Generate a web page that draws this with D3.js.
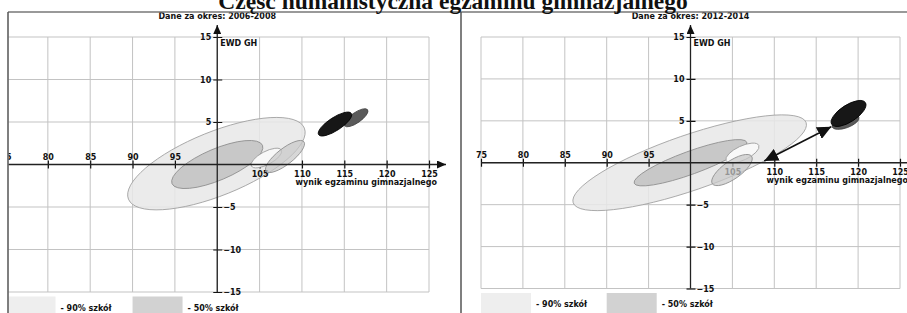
<!DOCTYPE html>
<html>
<head>
<meta charset="utf-8">
<script src="https://cdn.jsdelivr.net/npm/d3@7"></script>
<style>
    body { margin: 0; background: #fff; }
    svg text { font-family: "DejaVu Sans", sans-serif; font-weight: bold; font-size: 8px; fill: #111; }
    svg text.main-title { font-family: "Liberation Serif", serif; font-size: 23.5px; }
</style>
</head>
<body>
<div id="chart"></div>
<script>
// ---- data ----
const chartTitle = "Część humanistyczna egzaminu gimnazjalnego";
const periods = ["Dane za okres: 2006-2008", "Dane za okres: 2012-2014"];
const xTicks = [75, 80, 85, 90, 95, 100, 105, 110, 115, 120, 125];
const yTicks = [-15, -10, -5, 0, 5, 10, 15];
const xAxisTitle = "wynik egzaminu gimnazjalnego";
const yAxisTitle = "EWD GH";
const legendLabels = ["- 90% szkół", "- 50% szkół"];

// ellipses: kind, centre (wynik, EWD), half axes in data units, tilt in degrees
const ellipses2006 = [
    {kind: "p90", cx: 99.9, cy: 0.1, rx: 11.2, ry: 3.75, angle: 22},
    {kind: "p50", cx: 100.0, cy: 0.0, rx: 5.8, ry: 1.85, angle: 23},
    {kind: "white", cx: 105.8, cy: 0.76, rx: 2.0, ry: 0.77, angle: 28},
    {kind: "school", cx: 108.0, cy: 0.94, rx: 2.83, ry: 0.94, angle: 38},
    {kind: "grey", cx: 116.4, cy: 5.5, rx: 1.65, ry: 0.6, angle: 35},
    {kind: "black", cx: 113.9, cy: 4.76, rx: 2.3, ry: 0.77, angle: 33}
];
const ellipses2012 = [
    {kind: "p90", cx: 99.9, cy: 0.0, rx: 14.7, ry: 3.3, angle: 19},
    {kind: "p50", cx: 100.0, cy: 0.0, rx: 7.15, ry: 1.37, angle: 20},
    {kind: "white", cx: 106.2, cy: 1.16, rx: 2.15, ry: 0.84, angle: 25},
    {kind: "school", cx: 104.95, cy: -0.87, rx: 2.86, ry: 1.07, angle: 35},
    {kind: "grey", cx: 118.5, cy: 4.86, rx: 1.7, ry: 0.7, angle: 20},
    {kind: "black", cx: 118.86, cy: 5.88, rx: 2.39, ry: 1.01, angle: 33}
];
const arrow2012 = [[108.8, 0.2], [116.8, 4.3]];

const ellipseStyle = {
    p90:    {fill: "#e8e8e8", stroke: "#a0a0a0", op: 0.85, under: true},
    p50:    {fill: "#c2c2c2", stroke: "#8e8e8e", op: 0.85, under: true},
    white:  {fill: "#f8f8f8", stroke: "#9c9c9c", op: 1},
    school: {fill: "#c8c8c8", stroke: "#8c8c8c", op: 0.72},
    grey:   {fill: "#5a5a5a", stroke: "#444", op: 1},
    black:  {fill: "#171717", stroke: "#000", op: 1}
};

const W = 907, H = 313;

const svg = d3.select("#chart").append("svg")
    .attr("width", W)
    .attr("height", H);

// markers for arrows (axes and the change arrow)
const defs = svg.append("defs");
defs.append("marker")
    .attr("id", "axisHead")
    .attr("markerUnits", "userSpaceOnUse")
    .attr("markerWidth", 10).attr("markerHeight", 8)
    .attr("refX", 9).attr("refY", 4)
    .attr("orient", "auto")
    .append("path").attr("d", "M0,0 L9,4 L0,8 Z").attr("fill", "#111");
defs.append("marker")
    .attr("id", "bigHead")
    .attr("markerUnits", "userSpaceOnUse")
    .attr("markerWidth", 15).attr("markerHeight", 13)
    .attr("refX", 14).attr("refY", 6.5)
    .attr("orient", "auto-start-reverse")
    .append("path").attr("d", "M0,0 L14,6.5 L0,13 Z").attr("fill", "#111");

class EwdPanel {
    constructor(parentSvg, cfg) {
        this.parent = parentSvg;
        this.cfg = cfg;
        this.initVis();
    }

    initVis() {
        let vis = this;
        let c = vis.cfg;

        vis.x = d3.scaleLinear().domain([75, 125]).range(c.xRange);
        vis.y = d3.scaleLinear().domain([-15, 15]).range(c.yRange);

        defs.append("clipPath").attr("id", c.id + "-clip")
            .append("rect")
            .attr("x", c.frame[0] + 0.5).attr("y", 12)
            .attr("width", c.frame[1] - c.frame[0]).attr("height", H - 12);

        vis.g = vis.parent.append("g").attr("clip-path", `url(#${c.id}-clip)`);

        vis.drawGrid();
        vis.drawEllipses(d => ellipseStyle[d.kind].under);
        vis.drawAxes();
        vis.drawEllipses(d => !ellipseStyle[d.kind].under);
        vis.drawAxisLines();
        vis.drawArrow();
        vis.drawLegend();

        vis.g.append("text")
            .attr("x", vis.x(100))
            .attr("y", 19)
            .attr("text-anchor", "middle")
            .text(c.title);
    }

    drawGrid() {
        let vis = this;
        let grid = vis.g.append("g").attr("class", "grid")
            .attr("stroke", "#c3c3c3").attr("stroke-width", 1);

        grid.selectAll(".vline").data(xTicks).enter().append("line")
            .attr("x1", d => vis.x(d)).attr("x2", d => vis.x(d))
            .attr("y1", vis.y(15)).attr("y2", vis.y(-15));

        grid.selectAll(".hline").data(yTicks).enter().append("line")
            .attr("x1", vis.x(75)).attr("x2", vis.x(125))
            .attr("y1", d => vis.y(d)).attr("y2", d => vis.y(d));
    }

    drawEllipses(filterFn) {
        let vis = this;
        vis.g.append("g")
            .selectAll("ellipse")
            .data(vis.cfg.ellipses.filter(filterFn))
            .enter()
            .append("ellipse")
            .attr("transform", d => `translate(${vis.x(d.cx)},${vis.y(d.cy)}) rotate(${-d.angle})`)
            .attr("rx", d => vis.x(d.cx + d.rx) - vis.x(d.cx))
            .attr("ry", d => vis.y(d.cy) - vis.y(d.cy + d.ry))
            .attr("fill", d => ellipseStyle[d.kind].fill)
            .attr("fill-opacity", d => ellipseStyle[d.kind].op)
            .attr("stroke", d => ellipseStyle[d.kind].stroke)
            .attr("stroke-width", 0.8);
    }

    drawAxes() {
        let vis = this;

        let xAxis = d3.axisBottom(vis.x)
            .tickValues(xTicks.filter(d => d !== 100))
            .tickFormat(d3.format("d"))
            .tickSize(4);
        let xg = vis.g.append("g")
            .attr("transform", `translate(0,${vis.y(0)})`)
            .call(xAxis);
        xg.select(".domain").remove();
        xg.selectAll(".tick line").attr("y1", -4).attr("y2", 4).attr("stroke", "#111").attr("stroke-width", 1.2);
        xg.selectAll(".tick text")
            .attr("y", d => d < 100 ? -5 : 12)
            .attr("dy", 0)
            .attr("font-size", null).attr("font-family", null);

        let yAxis = d3.axisLeft(vis.y)
            .tickValues(yTicks.filter(d => d !== 0))
            .tickSize(4);
        let yg = vis.g.append("g")
            .attr("transform", `translate(${vis.x(100)},0)`)
            .call(yAxis);
        yg.select(".domain").remove();
        yg.selectAll(".tick line").attr("x1", -4).attr("x2", 5).attr("stroke", "#111").attr("stroke-width", 1.2);
        yg.selectAll(".tick text")
            .attr("x", d => d > 0 ? -6 : 6)
            .attr("text-anchor", d => d > 0 ? "end" : "start")
            .attr("font-size", null).attr("font-family", null);

        vis.g.append("text")
            .attr("x", vis.x(125) + 8)
            .attr("y", vis.y(0) + 20.5)
            .attr("text-anchor", "end")
            .text(xAxisTitle);

        vis.g.append("text")
            .attr("x", vis.x(100) + 3)
            .attr("y", vis.y(15) + 9)
            .text(yAxisTitle);
    }

    drawAxisLines() {
        let vis = this;
        vis.g.append("line")
            .attr("x1", Math.max(vis.x(75), vis.cfg.frame[0])).attr("x2", vis.x(125) + 17)
            .attr("y1", vis.y(0)).attr("y2", vis.y(0))
            .attr("stroke", "#222").attr("stroke-width", 1.3)
            .attr("marker-end", "url(#axisHead)");
        vis.g.append("line")
            .attr("x1", vis.x(100)).attr("x2", vis.x(100))
            .attr("y1", vis.y(-15)).attr("y2", vis.y(15) - 12)
            .attr("stroke", "#222").attr("stroke-width", 1.3)
            .attr("marker-end", "url(#axisHead)");
    }

    drawArrow() {
        let vis = this;
        if (!vis.cfg.arrow) return;
        let a = vis.cfg.arrow;
        vis.g.append("line")
            .attr("x1", vis.x(a[0][0])).attr("y1", vis.y(a[0][1]))
            .attr("x2", vis.x(a[1][0])).attr("y2", vis.y(a[1][1]))
            .attr("stroke", "#111").attr("stroke-width", 1.6)
            .attr("marker-start", "url(#bigHead)")
            .attr("marker-end", "url(#bigHead)");
    }

    drawLegend() {
        let vis = this;
        let top = vis.y(-15) + 4.5;
        let boxFill = ["#eeeeee", "#d2d2d2"];
        let starts = [vis.x(75), vis.x(90)];

        let leg = vis.g.append("g").selectAll("g")
            .data(legendLabels).enter().append("g");
        leg.append("rect")
            .attr("x", (d, i) => starts[i]).attr("y", top)
            .attr("width", 50).attr("height", 25)
            .attr("fill", (d, i) => boxFill[i]);
        leg.append("text")
            .attr("x", (d, i) => starts[i] + 55)
            .attr("y", top + 14)
            .text(d => d);
    }
}

let left = new EwdPanel(svg, {
    id: "p2006", title: periods[0], ellipses: ellipses2006, arrow: null,
    frame: [8, 461], xRange: [5.5, 429], yRange: [292, 37]
});
let right = new EwdPanel(svg, {
    id: "p2012", title: periods[1], ellipses: ellipses2012, arrow: arrow2012,
    frame: [461, 907], xRange: [481, 900], yRange: [288.5, 37]
});

// frame lines
svg.append("line").attr("x1", 8).attr("x2", W).attr("y1", 12).attr("y2", 12)
    .attr("stroke", "#777").attr("stroke-width", 1.5);
svg.selectAll(".vframe").data([8, 461]).enter().append("line")
    .attr("x1", d => d).attr("x2", d => d).attr("y1", 12).attr("y2", H)
    .attr("stroke", "#555").attr("stroke-width", 1.5);

svg.append("text")
    .attr("class", "main-title")
    .attr("x", 453)
    .attr("y", 9)
    .attr("text-anchor", "middle")
    .text(chartTitle);
</script>
</body>
</html>
